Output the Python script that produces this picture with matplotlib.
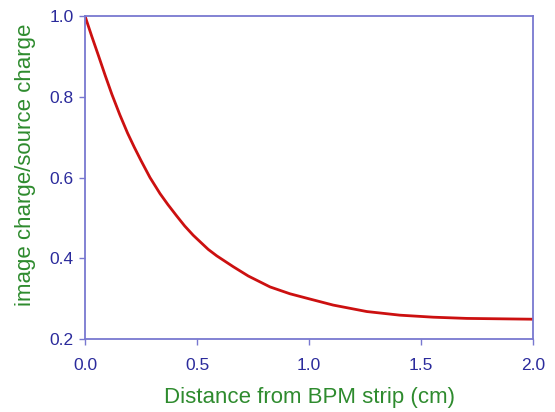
import matplotlib.pyplot as plt

# values
distance = [0.0, 0.03, 0.06, 0.09, 0.12, 0.155, 0.19, 0.22, 0.25, 0.29,
            0.335, 0.37, 0.409, 0.445, 0.483, 0.55, 0.588, 0.662, 0.729,
            0.826, 0.915, 1.004, 1.108, 1.258, 1.406, 1.555, 1.704, 1.853, 2.0]
ratio = [1.0, 0.95, 0.902, 0.853, 0.806, 0.756, 0.710, 0.675, 0.642, 0.600,
         0.560, 0.533, 0.505, 0.480, 0.457, 0.422, 0.406, 0.379, 0.356,
         0.329, 0.312, 0.299, 0.284, 0.268, 0.259, 0.254, 0.251, 0.250, 0.249]

plt.rcParams['font.family'] = ['Liberation Sans', 'DejaVu Sans']

spine_col = '#7878d0'
tick_col = '#2b2b9c'
label_col = '#2e8b2e'

fig = plt.figure(figsize=(5.55, 4.12), dpi=100)
ax = fig.add_axes([85 / 555, 1 - 339 / 412, 448 / 555, 323 / 412])

ax.plot(distance, ratio, color='#cc1010', lw=2, solid_joinstyle='round')

ax.set_xlim(0, 2.0)
ax.set_ylim(0.2, 1.0)
ax.set_xticks([0.0, 0.5, 1.0, 1.5, 2.0])
ax.set_yticks([0.2, 0.4, 0.6, 0.8, 1.0])
ax.xaxis.set_major_formatter(plt.FormatStrFormatter('%.1f'))
ax.yaxis.set_major_formatter(plt.FormatStrFormatter('%.1f'))

for s in ax.spines.values():
    s.set_color(spine_col)
    s.set_linewidth(1.3)

ax.tick_params(axis='both', direction='out', length=4, width=1, color=spine_col,
               labelcolor=tick_col, labelsize=12.5)
ax.tick_params(axis='x', pad=10)
ax.tick_params(axis='y', pad=4)

ax.set_xlabel('Distance from BPM strip (cm)', color=label_col, fontsize=16, labelpad=10)
ax.set_ylabel('image charge/source charge', color=label_col, fontsize=16)
ax.yaxis.set_label_coords(-0.11, 0.54)

fig.savefig('out.png', dpi=100)
